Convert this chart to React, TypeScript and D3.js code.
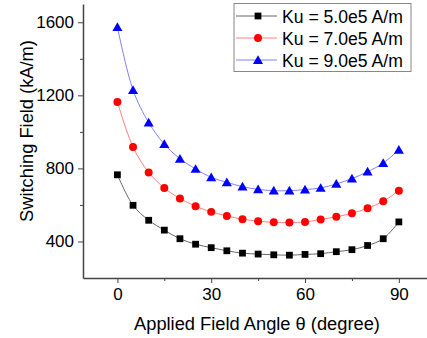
import React, { useEffect, useRef } from 'react';
import * as d3 from 'd3';

const angles = [0, 5, 10, 15, 20, 25, 30, 35, 40, 45, 50, 55, 60, 65, 70, 75, 80, 85, 90];
const ku5 = [765, 598, 516, 462, 415, 385, 366, 349, 336, 331, 327, 325, 329, 333, 344, 355, 378, 415, 507];
const ku7 = [1164, 917, 778, 693, 635, 593, 562, 540, 522, 511, 505, 504, 507, 520, 535, 554, 582, 620, 678];
const ku9 = [1574, 1229, 1051, 933, 853, 797, 751, 724, 700, 685, 678, 678, 684, 693, 715, 744, 782, 829, 902];
const seriesNames = ['Ku = 5.0e5 A/m', 'Ku = 7.0e5 A/m', 'Ku = 9.0e5 A/m'];
const xTicks = [0, 30, 60, 90];
const xMinor = [15, 45, 75];
const yTicks = [400, 800, 1200, 1600];
const yMinor = [600, 1000, 1400];

const FONT = "Arial, 'Liberation Sans', sans-serif";

const App = () => {
  const svgRef = useRef<SVGSVGElement>(null);

  useEffect(() => {
    const svg = d3.select(svgRef.current);
    svg.selectAll('*').remove();

    const x = d3.scaleLinear().domain([-11, 99]).range([83, 427]);
    const y = d3.scaleLinear().domain([200, 1700]).range([278, 4]);

    const series = [
      { name: seriesNames[0], values: ku5, color: '#000', line: '#666', shape: 'square' },
      { name: seriesNames[1], values: ku7, color: '#ff0000', line: '#ff8080', shape: 'circle' },
      { name: seriesNames[2], values: ku9, color: '#0000ff', line: '#8080ff', shape: 'triangle' },
    ];

    const symbolFor = (shape: string) =>
      shape === 'square'
        ? d3.symbol().type(d3.symbolSquare).size(46)
        : shape === 'circle'
        ? d3.symbol().type(d3.symbolCircle).size(50)
        : d3.symbol().type(d3.symbolTriangle).size(44);

    const line = d3
      .line<number>()
      .x((_, i) => x(angles[i]))
      .y((d) => y(d))
      .curve(d3.curveCatmullRom);

    series.forEach((s) => {
      svg
        .append('path')
        .datum(s.values)
        .attr('fill', 'none')
        .attr('stroke', s.line)
        .attr('stroke-width', 1)
        .attr('d', line);
      svg
        .append('g')
        .selectAll('path')
        .data(s.values)
        .join('path')
        .attr('d', symbolFor(s.shape)())
        .attr('fill', s.color)
        .attr('transform', (d, i) => `translate(${x(angles[i])},${y(d) + (s.shape === 'triangle' ? 1 : 0)})`);
    });

    // axes
    const axisColor = '#444';
    const xAxis = svg
      .append('g')
      .attr('transform', 'translate(0,278)')
      .call(d3.axisBottom(x).tickValues(xTicks).tickFormat(d3.format('d')).tickSize(5).tickSizeOuter(0).tickPadding(5));
    svg
      .append('g')
      .attr('transform', 'translate(0,278)')
      .call(d3.axisBottom(x).tickValues(xMinor).tickSize(3).tickSizeOuter(0).tickFormat(() => ''))
      .select('.domain')
      .remove();
    const yAxis = svg
      .append('g')
      .attr('transform', 'translate(83,0)')
      .call(d3.axisLeft(y).tickValues(yTicks).tickFormat(d3.format('d')).tickSize(5).tickSizeOuter(0).tickPadding(4));
    svg
      .append('g')
      .attr('transform', 'translate(83,0)')
      .call(d3.axisLeft(y).tickValues(yMinor).tickSize(3).tickSizeOuter(0).tickFormat(() => ''))
      .select('.domain')
      .remove();

    svg.selectAll('.domain').attr('stroke', axisColor).attr('stroke-width', 1.5);
    svg.selectAll('.tick line').attr('stroke', axisColor).attr('stroke-width', 1);
    [xAxis, yAxis].forEach((a) =>
      a.selectAll('text').attr('font-family', FONT).attr('font-size', 17).attr('fill', '#000')
    );

    // axis titles
    svg
      .append('text')
      .attr('x', 257)
      .attr('y', 330)
      .attr('text-anchor', 'middle')
      .attr('font-family', FONT)
      .attr('font-size', 18.3)
      .text('Applied Field Angle θ (degree)');
    svg
      .append('text')
      .attr('transform', 'translate(33,131) rotate(-90)')
      .attr('text-anchor', 'middle')
      .attr('font-family', FONT)
      .attr('font-size', 18.3)
      .text('Switching Field (kA/m)');

    // legend
    const lg = svg.append('g');
    lg.append('rect')
      .attr('x', 234)
      .attr('y', 3.5)
      .attr('width', 177)
      .attr('height', 68)
      .attr('fill', '#fff')
      .attr('stroke', '#888')
      .attr('stroke-width', 1);
    series.forEach((s, i) => {
      const ry = 16 + i * 22;
      lg.append('line')
        .attr('x1', 236)
        .attr('x2', 277)
        .attr('y1', ry)
        .attr('y2', ry)
        .attr('stroke', s.line)
        .attr('stroke-width', 1);
      lg.append('path')
        .attr('d', symbolFor(s.shape)())
        .attr('fill', s.color)
        .attr('transform', `translate(258,${ry + (s.shape === 'triangle' ? 1 : 0)})`);
      lg.append('text')
        .attr('x', 282)
        .attr('y', ry + 6.5)
        .attr('font-family', FONT)
        .attr('font-size', 17.6)
        .text(s.name);
    });
  }, []);

  return <svg ref={svgRef} width={427} height={338} style={{ position: 'absolute', left: 0, top: 0, background: '#fff' }} />;
};

export default App;
